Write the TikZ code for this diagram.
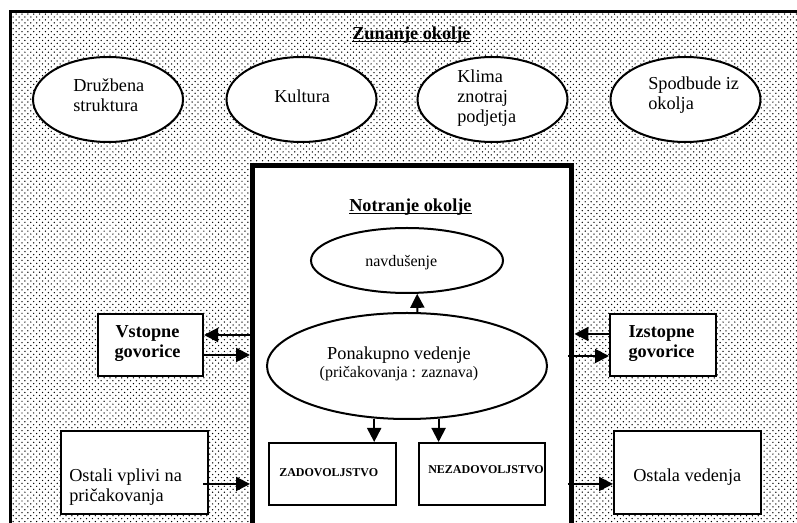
\documentclass[tikz,border=0pt]{standalone}
\usepackage{fontspec}
\setmainfont{Liberation Serif}
\usetikzlibrary{shapes.geometric,arrows.meta,patterns}

% staggered dot screen for the outer environment
\pgfdeclarepatternformonly{paperdots}{\pgfqpoint{-0.5pt}{-0.5pt}}{\pgfqpoint{4.9pt}{4.9pt}}{\pgfqpoint{4.4pt}{4.4pt}}{%
  \pgfpathcircle{\pgfqpoint{1.1pt}{1.1pt}}{0.55pt}%
  \pgfpathcircle{\pgfqpoint{3.3pt}{3.3pt}}{0.55pt}%
  \pgfusepath{fill}}

% underline set close to the baseline
\newcommand{\ulword}[1]{\setbox0\hbox{#1}\rlap{\rule[-1.6pt]{\wd0}{0.75pt}}\box0}
\newcommand{\bigtxt}{\fontsize{13.7pt}{15pt}\selectfont}
\newcommand{\midtxt}{\fontsize{12pt}{14pt}\selectfont}
\newcommand{\captxt}{\fontsize{9pt}{11pt}\selectfont\bfseries}
% stacked lines whose baseline is the first line
\newcommand{\leftlines}[1]{\begin{tabular}[t]{@{}l@{}}#1\end{tabular}}
\newcommand{\midlines}[1]{\begin{tabular}[t]{@{}c@{}}#1\end{tabular}}

\tikzset{
  shapeline/.style={draw, line width=1.5pt, fill=white, inner sep=0pt},
  oval/.style={shapeline, ellipse},
  panel/.style={shapeline, rectangle},
  lbl/.style={inner sep=0pt, font=\bigtxt, anchor=base west},
  arr/.style={line width=1.5pt, -{Triangle[length=10.5pt,width=10.5pt]}},
}

\begin{document}
\begin{tikzpicture}[x=0.75pt, y=-0.75pt]
\useasboundingbox (0,0) rectangle (797,523);
\clip (0,0) rectangle (797,523);

% outer environment (dotted)
\draw[line width=2.25pt, pattern=paperdots] (10,12) rectangle (812,600);

% inner environment
\node[draw, line width=3.75pt, fill=white, inner sep=0pt,
      minimum width=239.6pt, minimum height=325.9pt] (notr) at (412.25,382.75) {};

% external factors
\node[oval, minimum width=112.5pt, minimum height=63.75pt] (drus) at (108,99.5) {};
\node[oval, minimum width=112.5pt, minimum height=63.75pt] (kult) at (301.5,99.5) {};
\node[oval, minimum width=112.5pt, minimum height=63.75pt] (klim) at (492.5,99.5) {};
\node[oval, minimum width=112.5pt, minimum height=63.75pt] (spod) at (685.5,99.5) {};

% inner ellipses
\node[oval, minimum width=144pt, minimum height=48.75pt] (navd) at (407,260.5) {};
\node[oval, minimum width=210pt, minimum height=79.5pt] (ponak) at (407,366) {};

% boxes
\node[panel, minimum width=78.75pt, minimum height=46.5pt] (vst) at (150.5,345) {};
\node[panel, minimum width=79.5pt, minimum height=46.5pt] (izs) at (663,345) {};
\node[panel, minimum width=110.25pt, minimum height=62.25pt] (ost) at (134.5,472.5) {};
\node[panel, minimum width=110.25pt, minimum height=62.25pt] (osv) at (687.5,472.5) {};
\node[panel, minimum width=95.25pt, minimum height=46.5pt] (zad) at (332.5,474) {};
\node[panel, minimum width=94.5pt, minimum height=46.5pt] (nez) at (482,474) {};

% labels
\node[lbl, font=\bigtxt\bfseries] (zunT) at (352,39.5) {\ulword{Zunanje okolje}};
\node[lbl] (drusT) at (73,92) {\leftlines{Družbena\\struktura}};
\node[lbl] (kultT) at (274,103) {Kultura};
\node[lbl] (klimT) at (457,83) {\leftlines{Klima\\znotraj\\podjetja}};
\node[lbl] (spodT) at (648,90) {\leftlines{Spodbude iz\\okolja}};
\node[lbl, font=\bigtxt\bfseries] (notT) at (349,211.5) {\ulword{Notranje okolje}};
\node[lbl, font=\midtxt] (navT) at (365,267) {navdušenje};
\node[lbl, anchor=base] (ponT) at (399,360) {Ponakupno vedenje};
\node[lbl, anchor=base, font=\midtxt] (ponT2) at (399,378) {(pričakovanja : zaznava)};
\node[lbl, font=\captxt] (zadT) at (279,477) {ZADOVOLJSTVO};
\node[lbl, font=\captxt] (nezT) at (428,474) {NEZADOVOLJSTVO};
\node[lbl, anchor=base, font=\bigtxt\bfseries] (vstT) at (147.5,338) {\midlines{Vstopne\\govorice}};
\node[lbl, anchor=base, font=\bigtxt\bfseries] (izsT) at (661.5,338) {\midlines{Izstopne\\govorice}};
\node[lbl] (ostT) at (69,482) {\leftlines{Ostali vplivi na\\pričakovanja}};
\node[lbl] (osvT) at (633,482) {Ostala vedenja};

% connectors
\draw[arr] (ponak.79.3) -- (navd.287.2);
\draw[arr] (ponak.238.2) -- (ponak.238.2 |- zad.north);
\draw[arr] (ponak.301.8) -- (ponak.301.8 |- nez.north);

\coordinate (v1) at ([yshift=7.5pt]vst.east);
\coordinate (v2) at ([yshift=-7.5pt]vst.east);
\draw[arr] (v1 -| notr.west) -- (v1);
\draw[arr] (v2) -- (v2 -| notr.west);

\coordinate (i1) at ([yshift=8.25pt]izs.west);
\coordinate (i2) at ([yshift=-8.25pt]izs.west);
\coordinate (i2s) at (i2 -| notr.east);
\draw[arr] (i1) -- (i1 -| notr.east);
\draw[arr] ([xshift=-5pt]i2s) -- (i2);

\coordinate (o1) at ([yshift=-8.6pt]ost.east);
\draw[arr] ([xshift=-4.5pt]o1) -- (o1 -| notr.west);

\coordinate (o2) at ([yshift=-8.6pt]osv.west);
\coordinate (o2s) at (o2 -| notr.east);
\draw[arr] ([xshift=-5pt]o2s) -- (o2);
\end{tikzpicture}
\end{document}
